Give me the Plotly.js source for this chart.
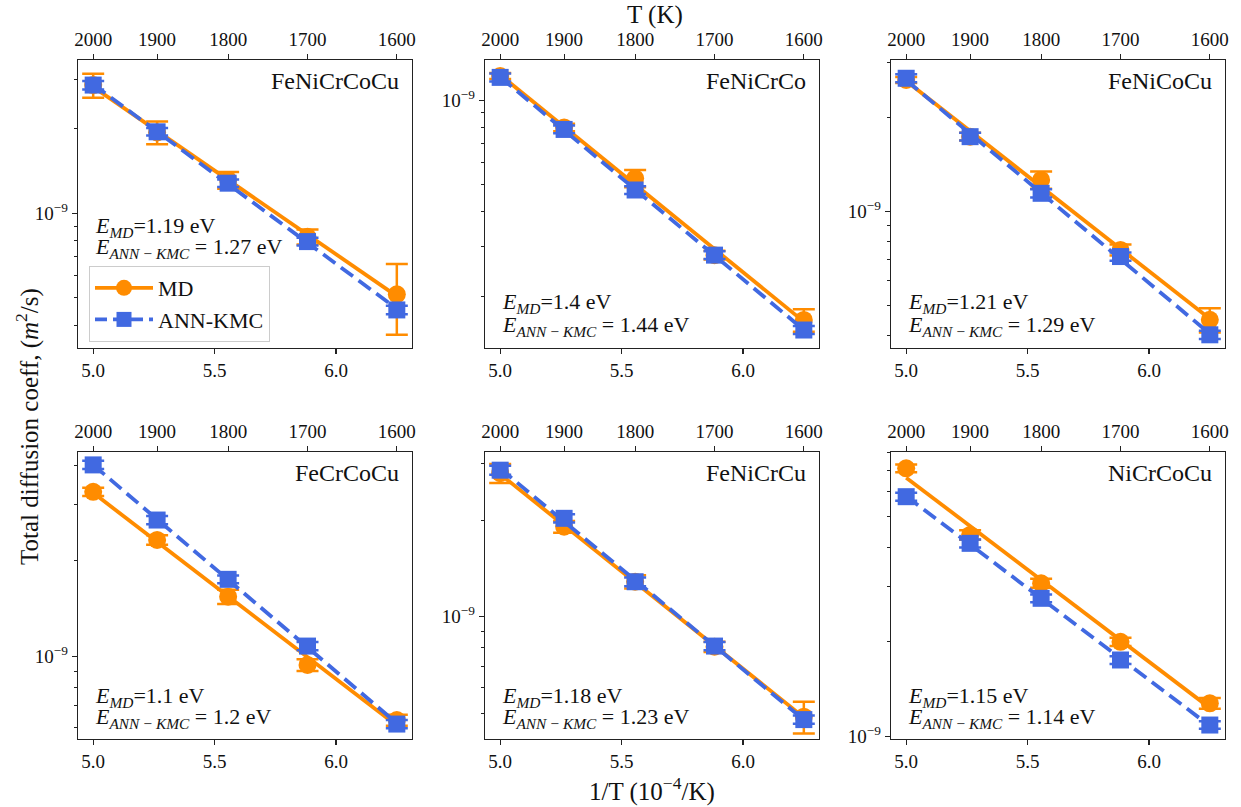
<!DOCTYPE html>
<html>
<head>
<meta charset="utf-8">
<script src="https://cdn.plot.ly/plotly-3.0.1.min.js"></script>
<style>html,body{margin:0;padding:0;background:#fff;}#chart{width:1241px;height:807px;}</style>
</head>
<body>
<div id="chart"></div>
<script>
// ---------------- data ----------------
const T_K = [2000, 1900, 1800, 1700, 1600];
const alloys = ['FeNiCrCoCu', 'FeNiCrCo', 'FeNiCoCu', 'FeCrCoCu', 'FeNiCrCu', 'NiCrCoCu'];
const E_MD  = ['1.19', '1.4', '1.21', '1.1', '1.18', '1.15'];
const E_ANN = ['1.27', '1.44', '1.29', '1.2', '1.23', '1.14'];

const md_FeNiCrCoCu    = [2.86e-9, 1.94e-9, 1.314e-9, 8.25e-10, 5.15e-10];
const mdErr_FeNiCrCoCu = [2.8e-10, 1.8e-10, 9e-11, 5e-11, 1.45e-10];
const ann_FeNiCrCoCu    = [2.86e-9, 1.95e-9, 1.28e-9, 7.93e-10, 4.53e-10];
const annErr_FeNiCrCoCu = [1.0e-10, 6e-11, 4e-11, 2.5e-11, 1.6e-11];

const md_FeNiCrCo    = [1.218e-9, 7.99e-10, 5.26e-10, 2.80e-10, 1.644e-10];
const mdErr_FeNiCrCo = [3e-11, 2.5e-11, 3.7e-11, 1e-11, 1.5e-11];
const ann_FeNiCrCo    = [1.205e-9, 7.86e-10, 4.78e-10, 2.80e-10, 1.514e-10];
const annErr_FeNiCrCo = [4e-11, 2.5e-11, 1.5e-11, 9e-12, 5e-12];

const md_FeNiCoCu    = [2.643e-9, 1.739e-9, 1.264e-9, 7.54e-10, 4.50e-10];
const mdErr_FeNiCoCu = [6e-11, 5e-11, 8e-11, 3e-11, 4e-11];
const ann_FeNiCoCu    = [2.676e-9, 1.739e-9, 1.145e-9, 7.18e-10, 4.03e-10];
const annErr_FeNiCoCu = [8e-11, 5e-11, 3.5e-11, 2.2e-11, 1.2e-11];

const md_FeCrCoCu    = [3.30e-9, 2.33e-9, 1.544e-9, 9.42e-10, 6.32e-10];
const mdErr_FeCrCoCu = [1.0e-10, 8e-11, 8e-11, 4e-11, 2.5e-11];
const ann_FeCrCoCu    = [4.01e-9, 2.69e-9, 1.751e-9, 1.080e-9, 6.14e-10];
const annErr_FeCrCoCu = [1.2e-10, 8e-11, 5e-11, 3.2e-11, 1.8e-11];

const md_FeNiCrCu    = [2.80e-9, 1.907e-9, 1.285e-9, 8.06e-10, 4.88e-10];
const mdErr_FeNiCrCu = [1.9e-10, 8e-11, 6e-11, 3e-11, 5.5e-11];
const ann_FeNiCrCu    = [2.86e-9, 2.025e-9, 1.285e-9, 8.10e-10, 4.78e-10];
const annErr_FeNiCrCu = [9e-11, 6e-11, 4e-11, 2.4e-11, 1.4e-11];

const md_NiCrCoCu    = [7.11e-9, 4.37e-9, 3.07e-9, 2.00e-9, 1.276e-9];
const mdErr_NiCrCoCu = [2e-10, 1.5e-10, 1e-10, 6e-11, 5e-11];
const ann_NiCrCoCu    = [5.78e-9, 4.11e-9, 2.75e-9, 1.752e-9, 1.089e-9];
const annErr_NiCrCoCu = [1.7e-10, 1.2e-10, 8e-11, 5e-11, 3e-11];

const xTickVals = [5.0, 5.5, 6.0];
const xTickText = ['5.0', '5.5', '6.0'];
const yMajorVals = [1e-9];
const yMajorText = ['10<sup>\u22129</sup>'];
const yMinorVals = [2e-10, 3e-10, 4e-10, 5e-10, 6e-10, 7e-10, 8e-10, 9e-10,
                    2e-9, 3e-9, 4e-9, 5e-9, 6e-9, 7e-9, 8e-9, 9e-9];

// ---------------- layout config ----------------
const MD = [md_FeNiCrCoCu, md_FeNiCrCo, md_FeNiCoCu, md_FeCrCoCu, md_FeNiCrCu, md_NiCrCoCu];
const MDE = [mdErr_FeNiCrCoCu, mdErr_FeNiCrCo, mdErr_FeNiCoCu, mdErr_FeCrCoCu, mdErr_FeNiCrCu, mdErr_NiCrCoCu];
const ANN = [ann_FeNiCrCoCu, ann_FeNiCrCo, ann_FeNiCoCu, ann_FeCrCoCu, ann_FeNiCrCu, ann_NiCrCoCu];
const ANNE = [annErr_FeNiCrCoCu, annErr_FeNiCrCo, annErr_FeNiCoCu, annErr_FeCrCoCu, annErr_FeNiCrCu, annErr_NiCrCoCu];

const W = 1241, H = 807;
const colPx = [[78, 412], [485, 819], [891, 1225]];
const rowPx = [[60, 348], [452, 739]];
const yRanges = [[-9.4794, -8.4544], [-9.884, -8.857], [-9.437, -8.514],
                 [-9.2588, -8.3563], [-9.381, -8.487], [-9.0073, -8.0962]];
const xRange = [4.9375, 6.3125];
const eY = [[0.421, 0.347], [0.155, 0.078], [0.155, 0.078], [0.145, 0.072], [0.145, 0.072], [0.145, 0.072]];

const ORANGE = '#FF8C00', BLUE = '#4169E1';
const FONT = 'Liberation Serif, Times New Roman, DejaVu Serif, serif';
const AXC = '#222';

const invT = T_K.map(t => 1e4 / t);

function fitLine(xs, ys) {
  const ly = ys.map(v => Math.log10(v));
  const n = xs.length;
  const mx = xs.reduce((a, b) => a + b, 0) / n;
  const my = ly.reduce((a, b) => a + b, 0) / n;
  let sxy = 0, sxx = 0;
  for (let i = 0; i < n; i++) { sxy += (xs[i] - mx) * (ly[i] - my); sxx += (xs[i] - mx) ** 2; }
  const b = sxy / sxx, a = my - b * mx;
  return xs.map(x => Math.pow(10, a + b * x));
}

const traces = [];
const layout = {
  width: W, height: H,
  margin: {l: 0, r: 0, t: 0, b: 0},
  paper_bgcolor: '#fff', plot_bgcolor: '#fff',
  font: {family: FONT, color: '#000', size: 19},
  showlegend: true,
  legend: {
    x: 89 / W, y: 1 - 266 / H, xanchor: 'left', yanchor: 'top',
    bgcolor: 'rgba(255,255,255,0.9)', bordercolor: '#cccccc', borderwidth: 1,
    font: {family: FONT, size: 22, color: '#111'},
    itemwidth: 58, tracegroupgap: 0
  },
  annotations: []
};

for (let p = 0; p < 6; p++) {
  const r = Math.floor(p / 3), c = p % 3;
  const k = p + 1, kt = p + 7;
  const xs = 'x' + k, ys = 'y' + k;
  const xdom = [colPx[c][0] / W, colPx[c][1] / W];
  const ydom = [1 - rowPx[r][1] / H, 1 - rowPx[r][0] / H];

  layout['xaxis' + k] = {
    domain: xdom, range: xRange, anchor: ys,
    tickmode: 'array', tickvals: xTickVals, ticktext: xTickText,
    ticks: 'outside', ticklen: 5, tickwidth: 1.2, tickcolor: AXC,
    showline: true, linecolor: AXC, linewidth: 1.4, mirror: true,
    showgrid: false, zeroline: false, fixedrange: true,
    tickfont: {family: FONT, size: 19, color: '#111'}
  };
  layout['xaxis' + kt] = {
    overlaying: xs, anchor: ys, side: 'top', range: xRange,
    tickmode: 'array', tickvals: invT, ticktext: T_K.map(String),
    ticks: 'outside', ticklen: 5, tickwidth: 1.2, tickcolor: AXC,
    showline: false, showgrid: false, zeroline: false, fixedrange: true,
    tickfont: {family: FONT, size: 19, color: '#111'}
  };
  layout['yaxis' + k] = {
    domain: ydom, type: 'log', range: yRanges[p], anchor: xs,
    tickmode: 'array', tickvals: yMajorVals, ticktext: yMajorText,
    ticks: 'outside', ticklen: 5, tickwidth: 1.2, tickcolor: AXC,
    minor: {tickmode: 'array', tickvals: yMinorVals, ticks: 'outside', ticklen: 3, tickwidth: 1, tickcolor: AXC, showgrid: false},
    showline: true, linecolor: AXC, linewidth: 1.4, mirror: true,
    showgrid: false, zeroline: false, fixedrange: true,
    tickfont: {family: FONT, size: 19, color: '#111'}
  };

  // register top (temperature) axis subplot
  traces.push({x: [null], y: [null], xaxis: 'x' + kt, yaxis: ys, mode: 'markers',
    showlegend: false, hoverinfo: 'skip'});

  // MD fit line
  traces.push({x: invT, y: fitLine(invT, MD[p]), xaxis: xs, yaxis: ys, mode: 'lines',
    line: {color: ORANGE, width: 3.8}, showlegend: false, hoverinfo: 'skip'});
  // MD markers
  traces.push({x: invT, y: MD[p], xaxis: xs, yaxis: ys, mode: 'markers', name: 'MD',
    marker: {symbol: 'circle', size: 18, color: ORANGE},
    error_y: {type: 'data', array: MDE[p], visible: true, color: ORANGE, thickness: 2.5, width: 11},
    showlegend: false});
  // ANN fit line
  traces.push({x: invT, y: fitLine(invT, ANN[p]), xaxis: xs, yaxis: ys, mode: 'lines',
    line: {color: BLUE, width: 3.8, dash: '15px,7px'}, showlegend: false, hoverinfo: 'skip'});
  // ANN markers
  traces.push({x: invT, y: ANN[p], xaxis: xs, yaxis: ys, mode: 'markers', name: 'ANN-KMC',
    marker: {symbol: 'square', size: 17, color: BLUE},
    error_y: {type: 'data', array: ANNE[p], visible: true, color: BLUE, thickness: 2.5, width: 11},
    showlegend: false});

  // panel label
  layout.annotations.push({xref: xs + ' domain', yref: ys + ' domain', x: 0.968, y: 0.927,
    xanchor: 'right', yanchor: 'middle', showarrow: false, text: alloys[p],
    font: {family: FONT, size: 24, color: '#111'}});
  // activation energies
  layout.annotations.push({xref: xs + ' domain', yref: ys + ' domain', x: 0.045, y: eY[p][0],
    xanchor: 'left', yanchor: 'middle', showarrow: false,
    text: '<i>E</i><sub><i>MD</i></sub>=' + E_MD[p] + ' eV',
    font: {family: FONT, size: 22, color: '#111'}});
  layout.annotations.push({xref: xs + ' domain', yref: ys + ' domain', x: 0.045, y: eY[p][1],
    xanchor: 'left', yanchor: 'middle', showarrow: false,
    text: '<i>E</i><sub><i>ANN\u2009\u2212\u2009KMC</i></sub> = ' + E_ANN[p] + ' eV',
    font: {family: FONT, size: 22, color: '#111'}});
}

// legend entries
traces.push({x: [null], y: [null], xaxis: 'x', yaxis: 'y', mode: 'lines+markers', name: 'MD',
  line: {color: ORANGE, width: 3.8}, marker: {symbol: 'circle', size: 16, color: ORANGE}, showlegend: true});
traces.push({x: [null], y: [null], xaxis: 'x', yaxis: 'y', mode: 'lines+markers', name: 'ANN-KMC',
  line: {color: BLUE, width: 3.8, dash: '12px,6px'}, marker: {symbol: 'square', size: 15, color: BLUE}, showlegend: true});

// global titles
layout.annotations.push({xref: 'paper', yref: 'paper', x: 655 / W, y: 1 - 15 / H, xanchor: 'center', yanchor: 'middle',
  showarrow: false, text: 'T (K)', font: {family: FONT, size: 25, color: '#111'}});
layout.annotations.push({xref: 'paper', yref: 'paper', x: 652 / W, y: 1 - 789 / H, xanchor: 'center', yanchor: 'middle',
  showarrow: false, text: '1/T (10<sup>\u22124</sup>/K)', font: {family: FONT, size: 25, color: '#111'}});
layout.annotations.push({xref: 'paper', yref: 'paper', x: 28 / W, y: 1 - 427 / H, xanchor: 'center', yanchor: 'middle',
  showarrow: false, textangle: -90, text: 'Total diffusion coeff, (<i>m</i><sup>2</sup>/s)',
  font: {family: FONT, size: 25, color: '#111'}});

Plotly.newPlot('chart', traces, layout, {staticPlot: true, displayModeBar: false});
</script>
</body>
</html>
